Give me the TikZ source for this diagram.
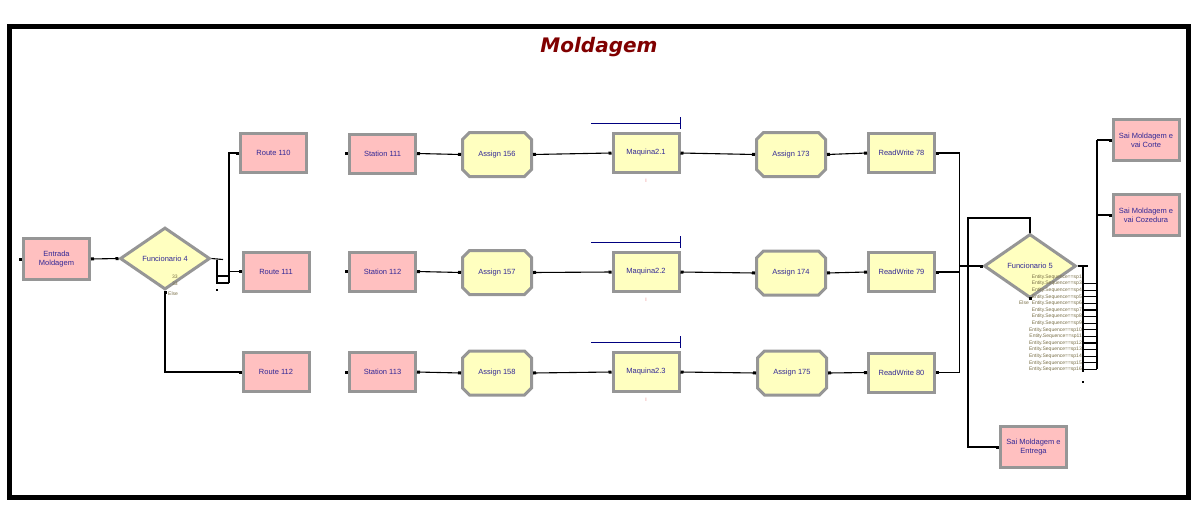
\documentclass[tikz,border=0pt]{standalone}
\usepackage{fontspec}
\setmainfont{Liberation Sans}
\newfontfamily\titlefont{DejaVu Sans}
\usetikzlibrary{shapes.geometric,shapes.misc,arrows.meta}
\pgfdeclarelayer{bg}
\pgfsetlayers{bg,main}
\definecolor{pinkfill}{RGB}{255,192,192}
\definecolor{yelfill}{RGB}{255,255,192}
\definecolor{bordgray}{RGB}{150,150,150}
\definecolor{txtblue}{RGB}{50,40,150}
\definecolor{lblolive}{RGB}{120,110,70}
\definecolor{titlered}{RGB}{128,0,0}
\definecolor{qblue}{RGB}{0,0,128}
\definecolor{resred}{RGB}{230,120,120}
\begin{document}
\begin{tikzpicture}[x=1pt,y=-1pt,
  modbox/.style={rectangle, draw=bordgray, line width=3pt, minimum width=66pt, minimum height=39pt,
    inner sep=0pt, align=center, text=txtblue, font=\fontsize{7.5}{9}\selectfont},
  pinkbox/.style={modbox, fill=pinkfill},
  yelbox/.style={modbox, fill=yelfill},
  asgbox/.style={modbox, fill=yelfill, chamfered rectangle, chamfered rectangle xsep=3.5pt,
    chamfered rectangle ysep=3.5pt, minimum width=69pt, minimum height=44pt},
  decbox/.style={diamond, draw=bordgray, line width=3pt, fill=yelfill, inner sep=0pt,
    text=txtblue, font=\fontsize{7.5}{9}\selectfont},
  ln/.style={line width=1.1pt},
  cn/.style={ln, {Square[length=3pt,width=3pt]}-{Square[length=3pt,width=3pt]}},
  cnE/.style={ln, -{Square[length=3pt,width=3pt]}},
  cnS/.style={ln, {Square[length=3pt,width=3pt]}-},
  sq/.style={rectangle, fill=black, minimum size=3pt, inner sep=0pt},
  smalllbl/.style={font=\fontsize{5}{5}\selectfont, text=lblolive, inner sep=0pt},
  qline/.style={line width=1pt, draw=qblue},
  reslbl/.style={font=\fontsize{5}{5}\selectfont, text=resred, inner sep=0pt}
]
\useasboundingbox (0,0) rectangle (1202,525);
\draw[line width=5pt] (9.5,26.5) rectangle (1188,497.5);
\node[font=\titlefont\bfseries\itshape\fontsize{20}{23}\selectfont, text=titlered] (title) at (599,47) {Moldagem};

% nodes
\node[pinkbox, minimum height=41pt] (entr) at (56.5,259) {Entrada\\Moldagem};
\node[decbox, minimum width=90pt, minimum height=62pt] (f4) at (165,258.5) {Funcionario 4};
\node[pinkbox] (r110) at (273.5,153) {Route 110};
\node[pinkbox] (r111) at (276,271.5) {Route 111};
\node[pinkbox] (r112) at (276,372) {Route 112};
\node[pinkbox] (st111) at (382.5,153.5) {Station 111};
\node[pinkbox] (st112) at (382.5,271.5) {Station 112};
\node[pinkbox] (st113) at (382.5,372) {Station 113};
\node[asgbox] (as156) at (497,154.5) {Assign 156};
\node[asgbox] (as157) at (497,272.5) {Assign 157};
\node[asgbox] (as158) at (497,373) {Assign 158};
\node[yelbox] (mq1) at (646,153) {Maquina2.1};
\node[yelbox] (mq2) at (646,272) {Maquina2.2};
\node[yelbox] (mq3) at (646,372) {Maquina2.3};
\node[asgbox] (as173) at (791,154.5) {Assign 173};
\node[asgbox] (as174) at (791,273) {Assign 174};
\node[asgbox] (as175) at (792,373) {Assign 175};
\node[yelbox] (rw78) at (901.5,153) {ReadWrite 78};
\node[yelbox] (rw79) at (901.5,272) {ReadWrite 79};
\node[yelbox] (rw80) at (901.5,372.5) {ReadWrite 80};
\node[decbox, minimum width=92pt, minimum height=64pt] (f5) at (1030,266) {Funcionario 5};
\node[pinkbox, minimum height=41pt] (sai1) at (1146,140) {Sai Moldagem e\\vai Corte};
\node[pinkbox, minimum height=41pt] (sai2) at (1146,215) {Sai Moldagem e\\vai Cozedura};
\node[pinkbox, minimum height=41pt] (entrega) at (1033.5,447) {Sai Moldagem e\\Entrega};

% unconnected entry points
\node[sq] (pe) at ([xshift=-2pt]entr.west) {};
\node[sq] (p1) at ([xshift=-2pt]st111.west) {};
\node[sq] (p2) at ([xshift=-2pt]st112.west) {};
\node[sq] (p3) at ([xshift=-2pt]st113.west) {};

% decide 4 labels
\node[smalllbl, anchor=west] (l33a) at (172,277) {33};
\node[smalllbl, anchor=west] (l33b) at (172,283.5) {33};
\node[smalllbl, anchor=west] (lel4) at (168,294) {Else};

% connectors left
\draw[cn] (entr.east) -- (f4.west);
\coordinate (ja) at (223,259.5);
\coordinate (jb) at (217,259.5);
\coordinate (jc) at (217,283);
\coordinate (jd) at (229,283);
\coordinate (je) at (217,276);
\coordinate (jf) at (229,276);
\draw[ln] (f4.east) -- (ja);
\draw[ln] (jb) -- (jc) -- (jd);
\draw[ln] (je) -- (jf);
\draw[cnE] (jd) |- (r110.west);
\draw[cnE] (r111.west -| jd) -- (r111.west);
\coordinate (jdot) at (217,290);
\fill (jdot) +(-0.6,-1) rectangle +(0.6,1);
\draw[cn] (f4.south) |- (r112.west);

% rows
\draw[cn] (st111.east) -- (as156.west);
\draw[cn] (st112.east) -- (as157.west);
\draw[cn] (st113.east) -- (as158.west);
\draw[cn] (as156.east) -- (mq1.west);
\draw[cn] (as157.east) -- (mq2.west);
\draw[cn] (as158.east) -- (mq3.west);
\draw[cn] (mq1.east) -- (as173.west);
\draw[cn] (mq2.east) -- (as174.west);
\draw[cn] (mq3.east) -- (as175.west);
\draw[cn] (as173.east) -- (rw78.west);
\draw[cn] (as174.east) -- (rw79.west);
\draw[cn] (as175.east) -- (rw80.west);

% machine decorations
\foreach \m in {mq1,mq2,mq3} {
  \draw[qline] ([xshift=-55pt,yshift=30pt]\m.center) -- ([xshift=34pt,yshift=30pt]\m.center);
  \draw[qline] ([xshift=34pt,yshift=36pt]\m.center) -- ([xshift=34pt,yshift=24pt]\m.center);
  \node[reslbl] at ([yshift=-28pt]\m.center) {I};
}

% join into decide 5
\coordinate (jr) at (959.5,266);
\draw[cnS] (rw78.east) -| (jr);
\draw[cnS] (rw80.east) -| (jr);
\draw[cn] (rw79.east) -| (jr) -- (f5.west);

% else exit to Entrega (behind the diamond)
\coordinate (jt) at (968,218);
\begin{pgfonlayer}{bg}
\draw[cnE] (f5.south) -- (f5.south |- jt) -- (jt) |- (entrega.west);
\end{pgfonlayer}
\node[sq] (p5s) at ([yshift=1pt]f5.south) {};
\node[smalllbl, anchor=north east] (lel5) at (1029,301) {Else};

% condition exits
\coordinate (k0) at (1088,266);
\coordinate (kv1) at (1083,266);
\coordinate (kv2) at (1083,372);
\coordinate (kt) at (1097,140);
\coordinate (kb) at (1097,369.4);
\draw[ln] (f5.east) -- (k0);
\draw[ln] (kv1) -- (kv2);
\coordinate (kdot) at (1083,382);
\fill (kdot) +(-0.6,-1) rectangle +(0.6,1);
\foreach \s [count=\i from 0] in {1,3,4,5,6,7,8,9,10,11,12,13,14,15,16} {
  \node[smalllbl, anchor=east] at (1082,{277+6.6*\i}) {Entity.Sequence==sp\s};
}
\foreach \i in {1,...,14} {
  \draw[ln] (1083,{277+6.6*\i}) -- (1097,{277+6.6*\i});
  \fill (1083,{277+6.6*\i}) +(-1.3,-1.3) rectangle +(1.3,1.3);
}
\draw[ln] (kt) -- (kb);
\draw[cnE] (kt) -- (sai1.west);
\draw[cnE] (sai2.west -| kt) -- (sai2.west);
\end{tikzpicture}
\end{document}
